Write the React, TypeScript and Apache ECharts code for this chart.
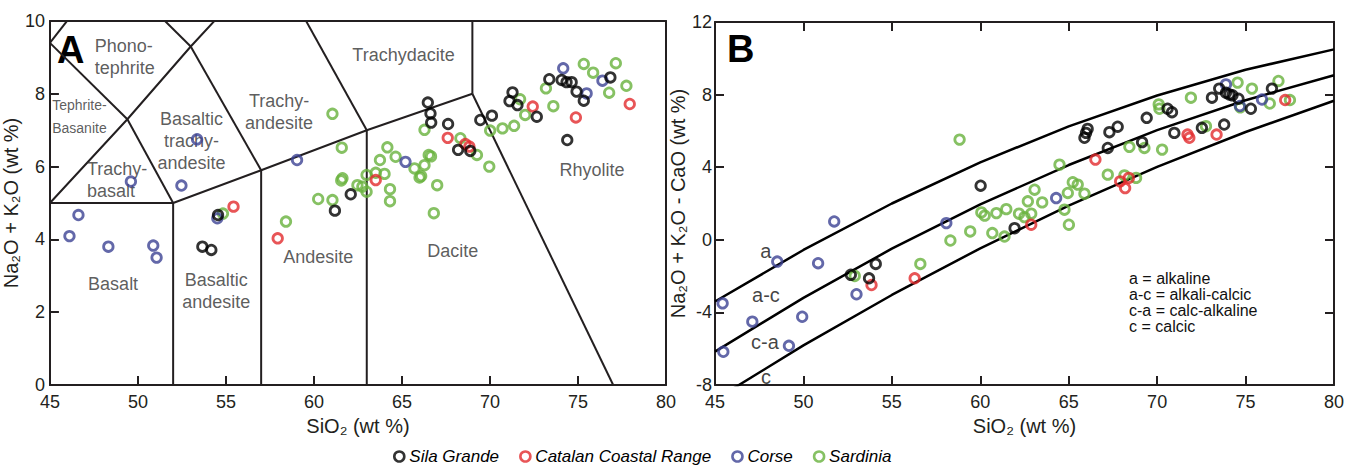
import React, { useEffect, useRef } from "react";
import * as echarts from "echarts";

// ---------- Panel A (TAS) data: [SiO2, Na2O+K2O] ----------
const silaA = [
  [54.55, 4.67], [53.66, 3.8], [54.17, 3.71], [61.19, 4.79], [62.09, 5.24], [66.47, 7.76], [66.62, 7.46],
  [66.66, 7.21], [67.62, 7.17], [68.19, 6.46], [68.88, 6.43], [69.45, 7.28], [70.11, 7.4], [71.28, 8.04],
  [71.11, 7.8], [71.56, 7.69], [72.66, 7.37], [73.37, 8.4], [74.07, 8.38], [74.35, 8.32], [74.64, 8.32],
  [74.92, 8.06], [75.33, 7.81], [76.84, 8.45], [74.39, 6.73],
];
const catalanA = [
  [55.43, 4.9], [57.94, 4.03], [63.51, 5.63], [67.6, 6.79], [68.83, 6.55], [68.6, 6.62], [72.43, 7.65],
  [74.88, 7.35], [77.94, 7.72],
];
const corseA = [
  [46.62, 4.67], [46.11, 4.09], [48.32, 3.8], [50.87, 3.83], [51.06, 3.5], [54.51, 4.58], [49.6, 5.59],
  [52.47, 5.48], [53.36, 6.75], [59.04, 6.18], [65.2, 6.13], [74.16, 8.7], [76.39, 8.36], [75.49, 8.01],
];
const sardiniaA = [
  [54.83, 4.71], [58.41, 4.49], [60.24, 5.11], [61.05, 5.08], [61.05, 7.45], [61.58, 6.52], [61.62, 5.68],
  [61.55, 5.62], [62.47, 5.49], [62.75, 5.45], [62.99, 5.31], [62.99, 5.77], [63.51, 5.83], [64.01, 5.8],
  [63.75, 6.18], [64.17, 6.53], [64.64, 6.27], [64.32, 5.38], [64.32, 5.05], [65.71, 5.95], [66.09, 5.74],
  [66.0, 5.7], [66.28, 6.04], [66.52, 6.32], [66.65, 6.28], [67.0, 5.49], [66.81, 4.72], [66.28, 7.01],
  [68.32, 6.78], [69.26, 6.32], [69.96, 6.0], [70.01, 6.99], [70.71, 7.05], [71.37, 7.12], [72.0, 7.42],
  [71.71, 7.85], [73.18, 8.15], [73.6, 7.66], [75.33, 8.82], [75.86, 8.58], [77.15, 8.84], [76.77, 8.03],
  [77.75, 8.22],
];

// ---------- Panel B (MALI) data: [SiO2, Na2O+K2O-CaO] ----------
const silaB = [
  [52.68, -1.93], [53.71, -2.12], [54.09, -1.33], [61.94, 0.64], [60.02, 2.98], [65.89, 5.62], [65.98, 5.89],
  [66.07, 6.11], [67.3, 5.93], [67.77, 6.23], [67.21, 5.06], [69.15, 5.38], [69.41, 6.72], [70.59, 7.22],
  [70.84, 7.03], [70.97, 5.89], [72.53, 6.17], [73.1, 7.83], [73.51, 8.33], [73.89, 8.1], [74.08, 8.01],
  [74.26, 7.96], [74.6, 7.77], [73.79, 6.35], [75.3, 7.22], [76.49, 8.33],
];
const catalanB = [
  [53.85, -2.49], [56.29, -2.12], [62.88, 0.83], [66.51, 4.42], [67.91, 3.22], [68.4, 3.41], [68.19, 2.85],
  [71.72, 5.8], [71.82, 5.62], [73.36, 5.8], [77.24, 7.7],
];
const corseB = [
  [51.74, 1.01], [48.52, -1.2], [50.83, -1.29], [45.43, -3.5], [47.11, -4.51], [49.93, -4.24], [53.0, -3.0],
  [45.47, -6.17], [49.18, -5.84], [58.08, 0.92], [64.29, 2.3], [73.89, 8.56], [75.93, 7.73], [74.68, 7.37],
];
const sardiniaB = [
  [52.9, -1.99], [56.61, -1.33], [58.31, -0.04], [59.43, 0.46], [60.68, 0.37], [61.37, 0.18], [60.06, 1.51],
  [60.25, 1.33], [60.91, 1.47], [61.47, 1.69], [62.19, 1.44], [62.69, 2.12], [62.88, 1.44], [62.5, 1.25],
  [63.5, 2.06], [64.76, 1.66], [65.01, 0.83], [58.83, 5.52], [64.48, 4.14], [67.21, 3.59], [68.15, 3.55],
  [68.43, 5.12], [69.28, 5.06], [70.28, 4.97], [68.81, 3.41], [70.09, 7.46], [70.13, 7.22], [71.91, 7.83],
  [72.76, 6.26], [74.55, 8.66], [75.36, 8.33], [76.86, 8.75], [76.37, 7.51], [77.51, 7.7], [65.23, 3.17],
  [65.51, 3.04], [65.89, 2.54], [64.95, 2.58], [63.07, 2.76], [74.7, 7.3],
];

// TAS field boundaries (Le Bas et al.), vertices in data units
const tasLines = [
  [[45, 5], [52, 5], [57, 5.9], [63, 7], [69, 8]],
  [[52, 0], [52, 5]],
  [[57, 0], [57, 5.9]],
  [[63, 0], [63, 7]],
  [[69, 8], [69, 13]],
  [[69, 8], [77, 0]],
  [[45, 5], [49.4, 7.3], [53, 9.3], [57.6, 11.7]],
  [[49.4, 7.3], [52, 5]],
  [[53, 9.3], [57, 5.9]],
  [[63, 7], [57.6, 11.7]],
  [[45, 9.4], [49.4, 7.3]],
  [[45, 9.4], [48.4, 11.5]],
  [[48.4, 11.5], [53, 9.3]],
];

const tasFields = [
  { name: "Phono-\ntephrite", x: 47.55, y: 9.01, align: "left", size: 18 },
  { name: "Tephrite-\nBasanite", x: 45.13, y: 7.38, align: "left", size: 14 },
  { name: "Trachy-\nbasalt", x: 47.1, y: 5.63, align: "left", size: 18 },
  { name: "Basaltic\ntrachy-\nandesite", x: 53.04, y: 6.7, align: "center", size: 18 },
  { name: "Trachy-\nandesite", x: 58.02, y: 7.5, align: "center", size: 18 },
  { name: "Trachydacite", x: 65.09, y: 9.07, align: "center", size: 18 },
  { name: "Rhyolite", x: 75.79, y: 5.9, align: "center", size: 18 },
  { name: "Basalt", x: 48.59, y: 2.77, align: "center", size: 18 },
  { name: "Basaltic\nandesite", x: 54.45, y: 2.57, align: "center", size: 18 },
  { name: "Andesite", x: 60.25, y: 3.52, align: "center", size: 18 },
  { name: "Dacite", x: 67.89, y: 3.69, align: "center", size: 18 },
];

// MALI boundaries (Frost et al. 2001) read at 5 wt% steps
const maliX = [45, 50, 55, 60, 65, 70, 75, 80];
const alkalineLimit = [-3.4, -0.56, 2.0, 4.27, 6.25, 7.95, 9.37, 10.49];
const alkaliCalcicLimit = [-6.16, -3.2, -0.49, 1.95, 4.12, 6.04, 7.69, 9.07];
const calcAlkalineLimit = [-8.81, -5.82, -3.04, -0.47, 1.88, 4.02, 5.94, 7.66];

const maliFields = [
  { name: "a", x: 47.88, y: -0.61 },
  { name: "a-c", x: 47.88, y: -3.04 },
  { name: "c-a", x: 47.82, y: -5.64 },
  { name: "c", x: 47.88, y: -7.57 },
];
const maliKey = ["a = alkaline", "a-c = alkali-calcic", "c-a = calc-alkaline", "c = calcic"];

const groups = [
  { name: "Sila Grande", color: "#000000", a: silaA, b: silaB },
  { name: "Catalan Coastal Range", color: "#e22a2d", a: catalanA, b: catalanB },
  { name: "Corse", color: "#3c4294", a: corseA, b: corseB },
  { name: "Sardinia", color: "#68b23c", a: sardiniaA, b: sardiniaB },
];

const FONT = "'Liberation Sans', Arial, Helvetica, sans-serif";
const INK = "#231f20";

function valueAxis(gridIndex: number, position: string, min: number, max: number, interval: number, opts: any) {
  return {
    type: "value",
    gridIndex,
    position,
    min,
    max,
    interval,
    axisLine: { show: true, onZero: false, lineStyle: { color: INK, width: 2 } },
    axisTick: { show: opts.ticks, inside: true, length: 9, lineStyle: { color: INK, width: 2 } },
    axisLabel: {
      show: opts.labels,
      color: INK,
      fontSize: 18,
      lineHeight: 14,
      fontFamily: FONT,
      margin: opts.margin ?? 10,
    },
    splitLine: { show: false },
    name: opts.name,
    nameLocation: "middle",
    nameGap: opts.nameGap,
    nameTextStyle: { color: INK, fontSize: 20, fontFamily: FONT },
  };
}

function buildOption() {
  const series: any[] = [];
  // TAS boundaries
  tasLines.forEach((pts) => {
    series.push({
      type: "line",
      xAxisIndex: 0,
      yAxisIndex: 0,
      data: pts,
      symbol: "none",
      clip: true,
      silent: true,
      lineStyle: { color: INK, width: 2 },
      z: 2,
    });
  });
  // MALI boundaries
  [alkalineLimit, alkaliCalcicLimit, calcAlkalineLimit].forEach((ys) => {
    series.push({
      type: "line",
      xAxisIndex: 2,
      yAxisIndex: 2,
      data: maliX.map((x, i) => [x, ys[i]]),
      symbol: "none",
      clip: true,
      silent: true,
      lineStyle: { color: "#000", width: 2.5 },
      z: 2,
    });
  });
  // field labels A
  series.push({
    type: "scatter",
    xAxisIndex: 0,
    yAxisIndex: 0,
    silent: true,
    symbolSize: 1,
    itemStyle: { color: "rgba(0,0,0,0)" },
    data: tasFields.map((f) => ({
      name: f.name,
      value: [f.x, f.y],
      label: {
        show: true,
        position: "inside",
        formatter: f.name,
        align: f.align,
        verticalAlign: "middle",
        color: "#333",
        fontSize: f.size,
        lineHeight: f.size === 14 ? 23 : 22,
        fontFamily: FONT,
      },
    })),
    z: 3,
  });
  // field labels B
  series.push({
    type: "scatter",
    xAxisIndex: 2,
    yAxisIndex: 2,
    silent: true,
    symbolSize: 1,
    itemStyle: { color: "rgba(0,0,0,0)" },
    data: maliFields.map((f) => ({
      name: f.name,
      value: [f.x, f.y],
      label: {
        show: true,
        position: "inside",
        formatter: f.name,
        color: "#111",
        fontSize: 20,
        fontFamily: FONT,
      },
    })),
    z: 3,
  });
  // data points, drawn with Sardinia lowest
  [...groups].reverse().forEach((g) => {
    [
      { data: g.a, xi: 0, yi: 0 },
      { data: g.b, xi: 2, yi: 2 },
    ].forEach((p) => {
      series.push({
        type: "scatter",
        name: g.name,
        xAxisIndex: p.xi,
        yAxisIndex: p.yi,
        data: p.data,
        symbol: "circle",
        symbolSize: 9.5,
        itemStyle: { color: "rgba(255,255,255,0)", borderColor: g.color, borderWidth: 2.8 },
        z: 5,
      });
    });
  });

  return {
    animation: false,
    backgroundColor: "#ffffff",
    textStyle: { fontFamily: FONT },
    grid: [
      { left: 48, top: 21, width: 618, height: 364 },
      { left: 715, top: 22, width: 620, height: 363 },
    ],
    xAxis: [
      valueAxis(0, "bottom", 45, 80, 5, { ticks: true, labels: true, name: "SiO₂ (wt %)", nameGap: 27 }),
      valueAxis(0, "top", 45, 80, 5, { ticks: false, labels: false }),
      valueAxis(1, "bottom", 45, 80, 5, { ticks: true, labels: true, name: "SiO₂ (wt %)", nameGap: 27 }),
      valueAxis(1, "top", 45, 80, 5, { ticks: true, labels: false }),
    ],
    yAxis: [
      valueAxis(0, "left", 0, 10, 2, { ticks: true, labels: true, margin: 5, name: "Na₂O + K₂O (wt %)", nameGap: 12 }),
      valueAxis(0, "right", 0, 10, 2, { ticks: false, labels: false }),
      valueAxis(1, "left", -8, 12, 4, { ticks: true, labels: true, margin: 3, name: "Na₂O + K₂O - CaO (wt %)", nameGap: 14 }),
      valueAxis(1, "right", -8, 12, 4, { ticks: true, labels: false }),
    ],
    legend: {
      left: 388,
      top: 443,
      itemWidth: 10,
      itemHeight: 10,
      itemGap: 20,
      textStyle: { fontStyle: "italic", fontSize: 17, color: "#000", fontFamily: FONT },
      data: groups.map((g) => ({
        name: g.name,
        icon: "circle",
        itemStyle: { color: "rgba(255,255,255,0)", borderColor: g.color, borderWidth: 2.6 },
      })),
    },
    graphic: [
      {
        type: "text",
        left: 57,
        top: 31,
        style: { text: "A", font: `bold 38px ${FONT}`, fill: "#000" },
      },
      {
        type: "text",
        left: 727,
        top: 30,
        style: { text: "B", font: `bold 38px ${FONT}`, fill: "#000" },
      },
      ...maliKey.map((t, i) => ({
        type: "text",
        left: 1129,
        top: 270 + i * 16,
        style: { text: t, font: `16px ${FONT}`, fill: "#111" },
      })),
    ],
    series,
  };
}

export default function App() {
  const ref = useRef<HTMLDivElement>(null);
  useEffect(() => {
    document.body.style.margin = "0";
    if (!ref.current) return;
    const chart = echarts.init(ref.current, null, { renderer: "svg" });
    chart.setOption(buildOption() as any);
    return () => chart.dispose();
  }, []);
  return <div ref={ref} style={{ width: 1347, height: 468 }} />;
}
